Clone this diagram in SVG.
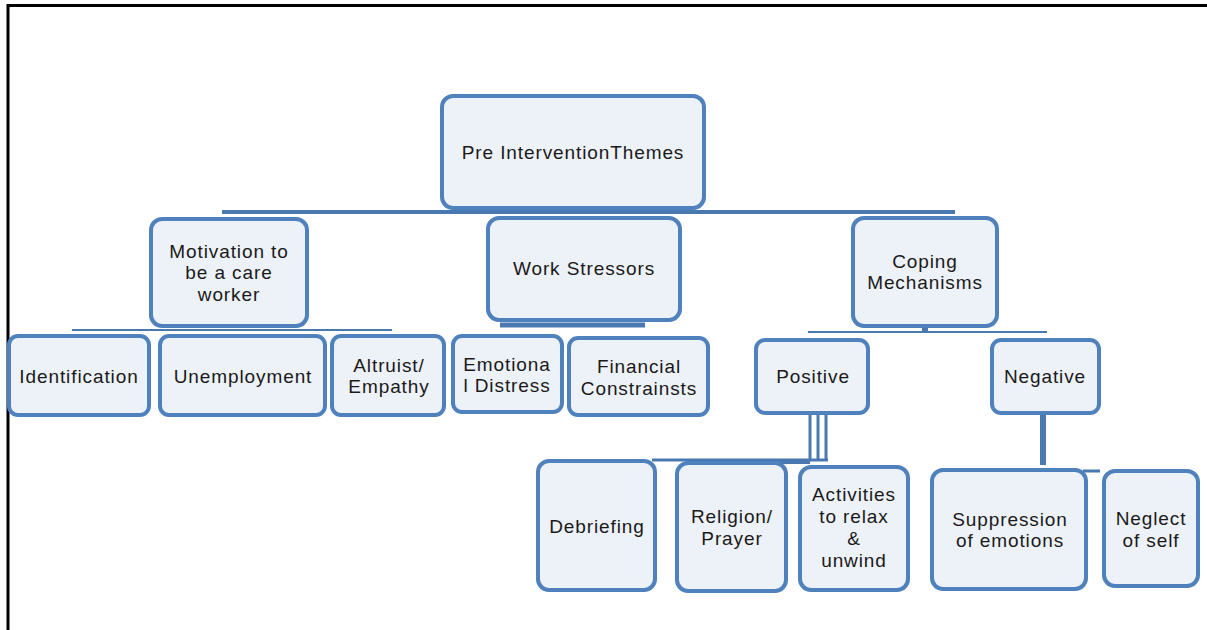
<svg xmlns="http://www.w3.org/2000/svg" width="1207" height="630" viewBox="0 0 1207 630">
<style>
.box{fill:#edf1f8;stroke:#4f81bd;stroke-width:4}
.t{font-family:"Liberation Sans",Arial,sans-serif;font-size:19px;fill:#1a1a1a;text-anchor:middle;letter-spacing:0.9px}
.c{stroke:#4a78b0;fill:none}
</style>
<rect width="1207" height="630" fill="#ffffff"/>
<rect x="8" y="5.5" width="1230" height="650" fill="none" stroke="#000" stroke-width="3"/>
<g id="connectors">
<line class="c" x1="222" y1="212" x2="955" y2="212" stroke-width="4"/>
<line class="c" x1="72" y1="330" x2="392" y2="330" stroke-width="2"/>
<line class="c" x1="500" y1="325" x2="645" y2="325" stroke-width="5"/>
<line class="c" x1="925" y1="327" x2="925" y2="333" stroke-width="6"/>
<line class="c" x1="808" y1="332" x2="1047" y2="332" stroke-width="2"/>
<line class="c" x1="810" y1="414" x2="810" y2="460" stroke-width="3"/>
<line class="c" x1="818" y1="414" x2="818" y2="460" stroke-width="3"/>
<line class="c" x1="826" y1="414" x2="826" y2="460" stroke-width="3"/>
<line class="c" x1="652" y1="460" x2="828" y2="460" stroke-width="3"/>
<line class="c" x1="770" y1="462" x2="810" y2="462" stroke-width="4"/>
<line class="c" x1="1043" y1="414" x2="1043" y2="465" stroke-width="6"/>
<line class="c" x1="1083" y1="471" x2="1100" y2="471" stroke-width="3"/>
</g>
<g id="root"><rect class="box" x="442" y="96" width="262" height="112" rx="11"/><text class="t" x="573" y="159">Pre InterventionThemes</text></g>
<g id="motivation"><rect class="box" x="151" y="219" width="156" height="107" rx="11"/><text class="t" x="229" y="258">Motivation to</text><text class="t" x="229" y="279">be a care</text><text class="t" x="229" y="301">worker</text></g>
<g id="work-stressors"><rect class="box" x="488" y="218" width="192" height="102" rx="11"/><text class="t" x="584" y="275">Work Stressors</text></g>
<g id="coping"><rect class="box" x="853" y="218" width="144" height="108" rx="11"/><text class="t" x="925" y="268">Coping</text><text class="t" x="925" y="289">Mechanisms</text></g>
<g id="identification"><rect class="box" x="9" y="336" width="140" height="79" rx="9"/><text class="t" x="79" y="383">Identification</text></g>
<g id="unemployment"><rect class="box" x="160" y="336" width="165" height="79" rx="9"/><text class="t" x="243" y="383">Unemployment</text></g>
<g id="altruist"><rect class="box" x="332" y="336" width="112" height="79" rx="9"/><text class="t" x="389" y="372">Altruist/</text><text class="t" x="389" y="393">Empathy</text></g>
<g id="emotional-distress"><rect class="box" x="453" y="336" width="109" height="76" rx="9"/><text class="t" x="507" y="371">Emotiona</text><text class="t" x="507" y="392">l Distress</text></g>
<g id="financial"><rect class="box" x="569" y="338" width="139" height="77" rx="9"/><text class="t" x="639" y="373">Financial</text><text class="t" x="639" y="395">Constrainsts</text></g>
<g id="positive"><rect class="box" x="756" y="340" width="112" height="73" rx="9"/><text class="t" x="813" y="383">Positive</text></g>
<g id="negative"><rect class="box" x="992" y="340" width="107" height="73" rx="9"/><text class="t" x="1045" y="383">Negative</text></g>
<g id="debriefing"><rect class="box" x="538" y="461" width="117" height="129" rx="11"/><text class="t" x="597" y="533">Debriefing</text></g>
<g id="religion"><rect class="box" x="677" y="463" width="109" height="128" rx="11"/><text class="t" x="732" y="523">Religion/</text><text class="t" x="732" y="545">Prayer</text></g>
<g id="activities"><rect class="box" x="800" y="467" width="108" height="123" rx="11"/><text class="t" x="854" y="501">Activities</text><text class="t" x="854" y="523">to relax</text><text class="t" x="854" y="545">&amp;</text><text class="t" x="854" y="567">unwind</text></g>
<g id="suppression"><rect class="box" x="932" y="470" width="154" height="119" rx="11"/><text class="t" x="1010" y="526">Suppression</text><text class="t" x="1010" y="547">of emotions</text></g>
<g id="neglect"><rect class="box" x="1104" y="471" width="94" height="115" rx="11"/><text class="t" x="1151" y="525">Neglect</text><text class="t" x="1151" y="547">of self</text></g>
</svg>
